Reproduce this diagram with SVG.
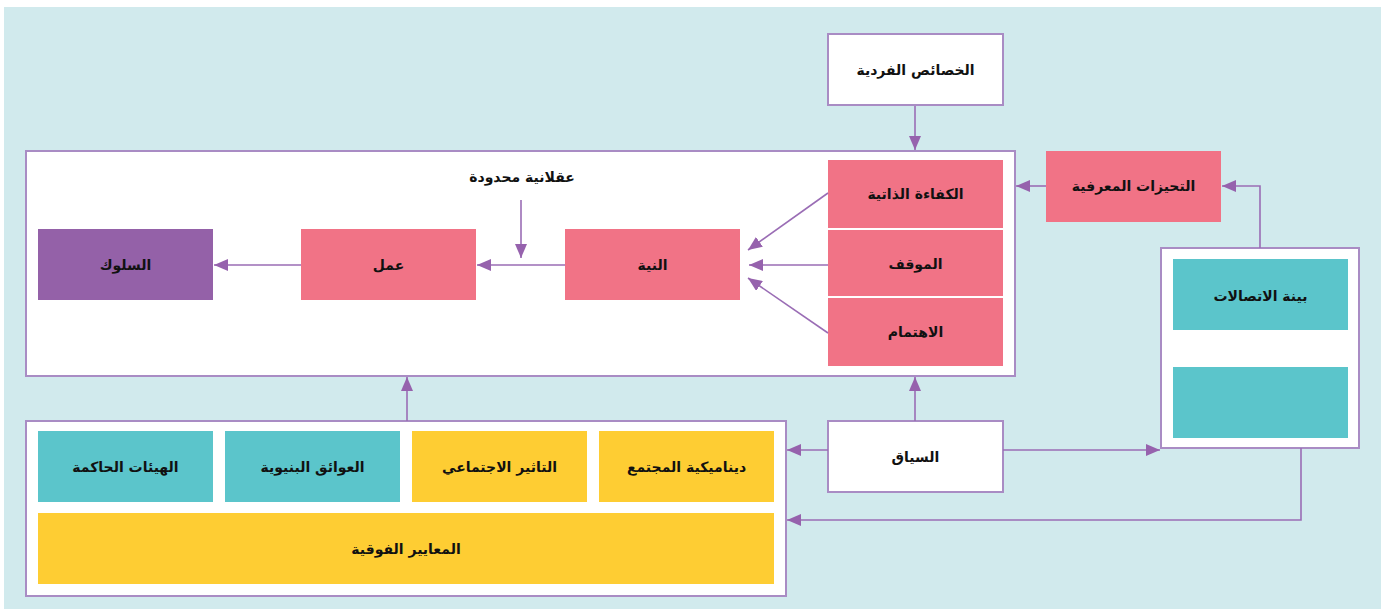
<svg xmlns="http://www.w3.org/2000/svg" width="1391" height="613" viewBox="0 0 1391 613">
<defs>
<marker id="ah" viewBox="0 0 14 12" refX="14" refY="6" markerWidth="14" markerHeight="12" markerUnits="userSpaceOnUse" orient="auto">
<path d="M0,0 L14,6 L0,12 Z" fill="#9662ad"/>
</marker>
<style>
.frame{fill:#ffffff;stroke:#a98cc4;stroke-width:2}
.pink{fill:#f17386}
.teal{fill:#5bc5cb}
.yel{fill:#fecd33}
.pur{fill:#9461a8}
.t{font-family:"DejaVu Sans","Noto Sans",sans-serif;font-weight:bold;font-size:14px;fill:#111;text-anchor:middle;dominant-baseline:central}
.c{fill:none;stroke:#9a6db5;stroke-width:1.6;marker-end:url(#ah)}
.cn{fill:none;stroke:#9a6db5;stroke-width:1.6}
</style>
</defs>
<rect x="4" y="7" width="1377" height="602" fill="#d1eaed"/>

<g id="main-box"><rect class="frame" x="26" y="151" width="989" height="225"/></g>
<g id="lower-box"><rect class="frame" x="26" y="421" width="760" height="175"/></g>
<g id="network-box"><rect class="frame" x="1161" y="248" width="198" height="200"/></g>

<g id="individual"><rect class="frame" x="828" y="34" width="175" height="71"/><text class="t" x="915.5" y="70">الخصائص الفردية</text></g>
<g id="self-efficacy"><rect class="pink" x="828" y="160" width="175" height="68"/><text class="t" x="915.5" y="194">الكفاءة الذاتية</text></g>
<g id="attitude"><rect class="pink" x="828" y="230" width="175" height="66"/><text class="t" x="915.5" y="264">الموقف</text></g>
<g id="interest"><rect class="pink" x="828" y="298" width="175" height="68"/><text class="t" x="915.5" y="332">الاهتمام</text></g>
<g id="intention"><rect class="pink" x="565" y="229" width="175" height="71"/><text class="t" x="652.5" y="265">النية</text></g>
<g id="action"><rect class="pink" x="301" y="229" width="175" height="71"/><text class="t" x="388.5" y="265">عمل</text></g>
<g id="behavior"><rect class="pur" x="38" y="229" width="175" height="71"/><text class="t" x="125.5" y="265">السلوك</text></g>
<g id="bounded"><text class="t" x="522" y="177">عقلانية محدودة</text></g>
<g id="biases"><rect class="pink" x="1046" y="151" width="175" height="71"/><text class="t" x="1133.5" y="186">التحيزات المعرفية</text></g>
<g id="network"><rect class="teal" x="1173" y="259" width="175" height="71"/><text class="t" x="1260.5" y="296">بينة الاتصالات</text></g>
<g id="network2"><rect class="teal" x="1173" y="367" width="175" height="71"/></g>
<g id="context"><rect class="frame" x="828" y="421" width="175" height="71"/><text class="t" x="915.5" y="457">السياق</text></g>
<g id="governing"><rect class="teal" x="38" y="431" width="175" height="71"/><text class="t" x="125.5" y="467">الهيئات الحاكمة</text></g>
<g id="structural"><rect class="teal" x="225" y="431" width="175" height="71"/><text class="t" x="312.5" y="467">العوائق البنيوية</text></g>
<g id="social"><rect class="yel" x="412" y="431" width="175" height="71"/><text class="t" x="499.5" y="467">التاثير الاجتماعي</text></g>
<g id="dynamics"><rect class="yel" x="599" y="431" width="175" height="71"/><text class="t" x="686.5" y="467">ديناميكية المجتمع</text></g>
<g id="norms"><rect class="yel" x="38" y="513" width="736" height="71"/><text class="t" x="406" y="549">المعايير الفوقية</text></g>

<g id="connectors">
<path class="c" d="M915,106 V150"/>
<path class="c" d="M828,193 L748,250"/>
<path class="c" d="M828,265 H749"/>
<path class="c" d="M828,333 L748,278"/>
<path class="c" d="M565,265 H477"/>
<path class="c" d="M521,200 V258"/>
<path class="c" d="M301,265 H214"/>
<path class="c" d="M1046,186 H1016"/>
<path class="c" d="M1260,248 V186 H1222"/>
<path class="c" d="M915,421 V377"/>
<path class="c" d="M828,450 H787"/>
<path class="c" d="M1003,450 H1160"/>
<path class="c" d="M1301,448 V520 H787"/>
<path class="c" d="M407,421 V377"/>
</g>
</svg>
